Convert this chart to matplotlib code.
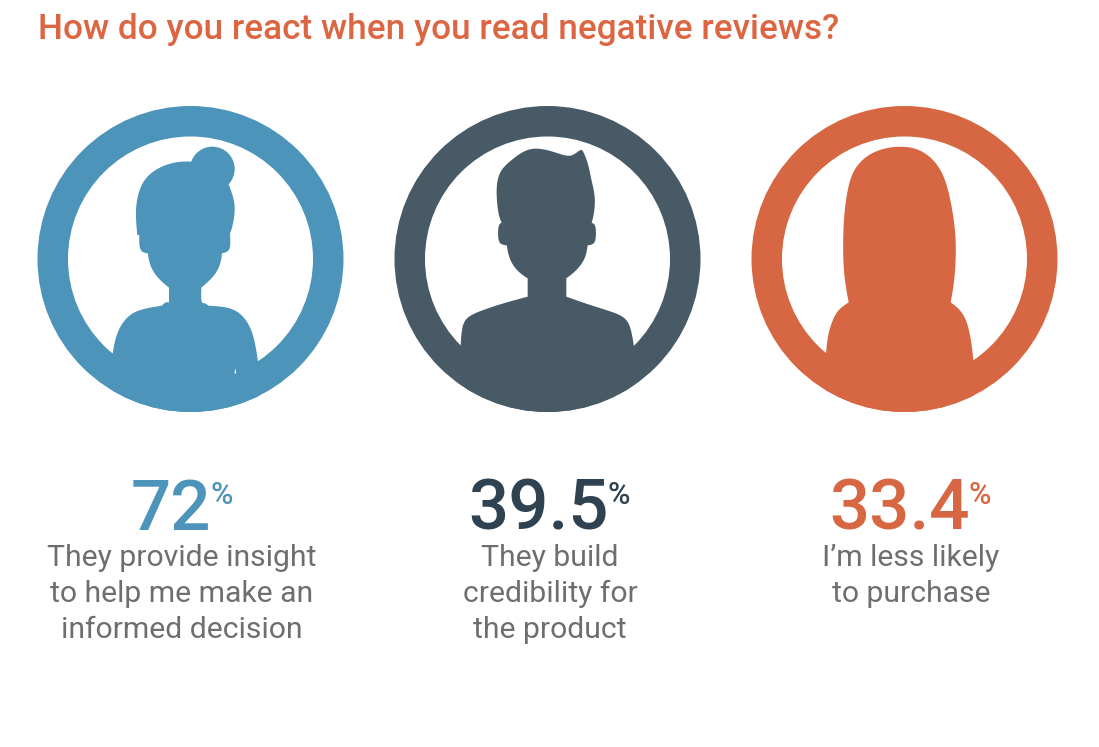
import numpy as np
import matplotlib
matplotlib.use("Agg")
import matplotlib.pyplot as plt
from matplotlib.patches import Circle, PathPatch, Polygon
from matplotlib.path import Path

plt.rcParams['font.family'] = ['Roboto', 'DejaVu Sans']

title = "How do you react when you read negative reviews?"
percent_values = ["72", "39.5", "33.4"]
answer_labels = [
    "They provide insight\nto help me make an\ninformed decision",
    "They build\ncredibility for\nthe product",
    "I\u2019m less likely\nto purchase",
]
ring_colors = ["#4C94B9", "#475A66", "#D76742"]
number_colors = ["#4C94B9", "#2F4252", "#D76742"]
title_color = "#DC6542"
text_color = "#6D6E71"

# icon outlines, traced in 3x zoom pixels of a 320 px crop
woman = [
    [(322, 405), (317, 340), (325, 280), (350, 230), (400, 197), (450, 185), (485, 185)],
    [(485, 185), (597, 255)],
    [(597, 255), (612, 300), (614, 340), (607, 380), (600, 400)],
    [(600, 400), (601, 440), (592, 455), (576, 460)],
    [(576, 460), (570, 495), (550, 530), (514, 563)],
    [(514, 563), (514, 607), (525, 609), (535, 617)],
    [(535, 617), (590, 622), (630, 640), (660, 680), (675, 730), (684, 785)],
    [(684, 785), (690, 950)],
    [(690, 950), (250, 950)],
    [(250, 950), (248, 760)],
    [(248, 760), (258, 710), (280, 665), (320, 632), (395, 617)],
    [(395, 617), (407, 607), (417, 607)],
    [(417, 607), (417, 563)],
    [(417, 563), (385, 535), (362, 500), (353, 460)],
    [(353, 460), (335, 455), (328, 435), (328, 405)],
    [(328, 405), (322, 405)],
]
man = [
    [(335, 368), (325, 340), (319, 270), (330, 215), (365, 180), (400, 155), (435, 145),
     (480, 152), (525, 167), (550, 165), (570, 150), (580, 155), (595, 195), (603, 235),
     (615, 290), (612, 340), (605, 368)],
    [(605, 368), (617, 378), (617, 420), (607, 433), (593, 436)],
    [(593, 436), (585, 475), (560, 510), (529, 535)],
    [(529, 535), (529, 590)],
    [(529, 590), (600, 615), (670, 637), (705, 655), (722, 685), (732, 740)],
    [(732, 740), (740, 950)],
    [(740, 950), (200, 950)],
    [(200, 950), (212, 735)],
    [(212, 735), (217, 680), (235, 650), (280, 630), (340, 610), (413, 590)],
    [(413, 590), (413, 535)],
    [(413, 535), (385, 515), (360, 480), (350, 436)],
    [(350, 436), (335, 433), (325, 420), (325, 378), (335, 368)],
]
long_hair = [
    [(311, 607), (298, 530), (294, 440), (298, 340), (310, 260), (330, 205), (370, 165),
     (420, 145), (465, 140), (510, 145), (555, 170), (590, 215), (612, 280), (628, 370),
     (633, 450), (628, 540), (617, 607)],
    [(617, 607), (645, 630), (665, 665), (678, 720), (685, 780)],
    [(685, 780), (690, 950)],
    [(690, 950), (240, 950)],
    [(240, 950), (243, 760)],
    [(243, 760), (250, 700), (270, 645), (290, 622), (311, 607)],
]
icons = [woman, man, long_hair]
crop_left = [30, 390, 745]
ring_center_x = [190.5, 547.5, 904.5]
number_x = [171, 538, 899]
sign_x = [222, 619, 980]
label_x = [182, 550, 911]


def smooth(points, n=12):
    # catmull-rom through the traced points, corners are kept by the segments
    pts = np.array(points, dtype=float)
    if len(pts) < 3:
        return pts
    pad = np.vstack([2 * pts[0] - pts[1], pts, 2 * pts[-1] - pts[-2]])
    out = []
    for i in range(1, len(pad) - 2):
        p0, p1, p2, p3 = pad[i - 1], pad[i], pad[i + 1], pad[i + 2]
        for t in np.linspace(0, 1, n, endpoint=False):
            out.append(0.5 * (2 * p1 + (p2 - p0) * t + (2 * p0 - 5 * p1 + 4 * p2 - p3) * t**2
                              + (3 * p1 - p0 - 3 * p2 + p3) * t**3))
    out.append(pts[-1])
    out = np.array(out)
    # take the lumps out, ends stay where they are
    soft = out.copy()
    for i in range(1, len(out) - 1):
        w = min(i, len(out) - 1 - i, 6)
        soft[i] = out[i - w:i + w + 1].mean(axis=0)
    return soft


fig = plt.figure(figsize=(10.99, 7.47), dpi=100)
ax = fig.add_axes([0, 0, 1, 1])
ax.set_xlim(0, 1099)
ax.set_ylim(747, 0)
ax.axis("off")

ax.text(38, 39, title, fontsize=25.25, fontweight="medium", color=title_color,
        ha="left", va="baseline")

for i in range(3):
    cx, cy = ring_center_x[i], 259
    color = ring_colors[i]
    ax.add_patch(Circle((cx, cy), 153, fc=color, ec="none"))
    ax.add_patch(Circle((cx, cy), 122.5, fc="white", ec="none"))

    outline = np.vstack([smooth(seg) for seg in icons[i]])
    verts = outline / 3 + [crop_left[i], 100]
    body = PathPatch(Path(verts), fc=color, ec="none")
    ax.add_patch(body)
    body.set_clip_path(Circle((cx, cy), 153, transform=ax.transData))

    if i == 0:
        ax.add_patch(Circle((30 + 547 / 3, 100 + 207 / 3), 67 / 3, fc=color, ec="none"))
        # small gap left in the icon artwork
        speck = np.array([(613, 820), (619, 820), (616, 805)]) / 3 + [crop_left[i], 100]
        ax.add_patch(Polygon(speck, fc="white", ec="none"))

    ax.text(number_x[i], 530, percent_values[i], fontsize=51, fontweight="medium",
            color=number_colors[i], ha="center", va="baseline")
    ax.text(sign_x[i], 504, "%", fontsize=22, fontweight="medium",
            color=number_colors[i], ha="center", va="baseline")
    ax.text(label_x[i], 544, answer_labels[i], fontsize=21.7, color=text_color,
            ha="center", va="top", linespacing=1.36)

fig.savefig("out.png", dpi=100)
